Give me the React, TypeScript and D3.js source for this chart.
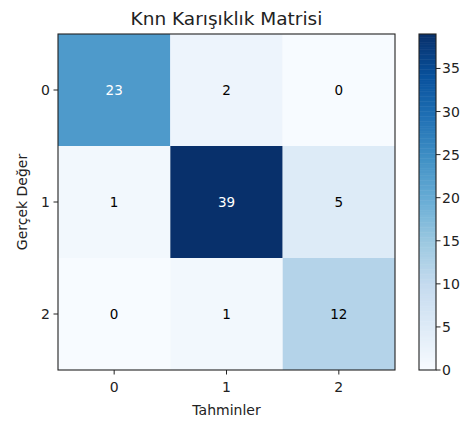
import React from "react";
import * as d3 from "d3";

const classes = ["0", "1", "2"];
const matrix: number[][] = [
  [23, 2, 0],
  [1, 39, 5],
  [0, 1, 12],
];
const colorbarTicks = [0, 5, 10, 15, 20, 25, 30, 35];
const blues = ["#f7fbff", "#deebf7", "#c6dbef", "#9ecae1", "#6baed6", "#4292c6", "#2171b5", "#08519c", "#08306b"];

const W = 466, H = 421;
const left = 58, top = 34, right = 395, bottom = 370;
const cbLeft = 419, cbRight = 436;
const FONT = "DejaVu Sans, sans-serif";

export default function App() {
  const maxV = d3.max(matrix.flat()) as number;
  const cmapT = d3.scaleLinear<string>()
    .domain(blues.map((_, i) => i / (blues.length - 1)))
    .range(blues)
    .interpolate(d3.interpolateRgb);
  const color = (v: number) => cmapT(v / maxV);
  const x = d3.scaleBand().domain(classes).range([left, right]);
  const y = d3.scaleBand().domain(classes).range([top, bottom]);
  const cy = d3.scaleLinear().domain([0, maxV]).range([bottom, top]);
  const steps = d3.range(0, 200);
  const thresh = maxV / 2;
  return (
    <svg width={W} height={H} style={{ position: "absolute", left: 0, top: 0 }} fontFamily={FONT}>
      <rect x={0} y={0} width={W} height={H} fill="#fff" />
      {matrix.map((row, i) =>
        row.map((v, j) => (
          <g key={`${i}-${j}`}>
            <rect x={x(classes[j])} y={y(classes[i])} width={x.bandwidth()} height={y.bandwidth()} fill={color(v)} />
            <text
              x={(x(classes[j]) as number) + x.bandwidth() / 2}
              y={(y(classes[i]) as number) + y.bandwidth() / 2}
              textAnchor="middle"
              dominantBaseline="central"
              fontSize={13.5}
              fill={v > thresh ? "#fff" : "#000"}
            >
              {v}
            </text>
          </g>
        ))
      )}
      <rect x={left} y={top} width={right - left} height={bottom - top} fill="none" stroke="#222" strokeWidth={1.1} />
      {classes.map((c) => {
        const px = (x(c) as number) + x.bandwidth() / 2;
        const py = (y(c) as number) + y.bandwidth() / 2;
        return (
          <g key={c}>
            <line x1={px} x2={px} y1={bottom} y2={bottom + 4.5} stroke="#222" />
            <text x={px} y={bottom + 22} textAnchor="middle" fontSize={14} fill="#222">{c}</text>
            <line x1={left - 4.5} x2={left} y1={py} y2={py} stroke="#222" />
            <text x={left - 8} y={py} textAnchor="end" dominantBaseline="central" fontSize={14} fill="#222">{c}</text>
          </g>
        );
      })}
      <text x={(left + right) / 2} y={top - 9} textAnchor="middle" fontSize={18.5} fill="#222">Knn Karışıklık Matrisi</text>
      <text x={(left + right) / 2} y={bottom + 45} textAnchor="middle" fontSize={14} fill="#222">Tahminler</text>
      <text transform={`translate(27,${(top + bottom) / 2}) rotate(-90)`} textAnchor="middle" fontSize={14} fill="#222">Gerçek Değer</text>
      {steps.map((s) => {
        const v0 = (s / steps.length) * maxV;
        const v1 = ((s + 1) / steps.length) * maxV;
        return <rect key={s} x={cbLeft} y={cy(v1)} width={cbRight - cbLeft} height={cy(v0) - cy(v1) + 0.5} fill={color((v0 + v1) / 2)} />;
      })}
      <rect x={cbLeft} y={top} width={cbRight - cbLeft} height={bottom - top} fill="none" stroke="#222" strokeWidth={1.1} />
      {colorbarTicks.map((t) => (
        <g key={t}>
          <line x1={cbRight} x2={cbRight + 4.5} y1={cy(t)} y2={cy(t)} stroke="#222" />
          <text x={cbRight + 6} y={cy(t)} dominantBaseline="central" fontSize={14} fill="#222">{t}</text>
        </g>
      ))}
    </svg>
  );
}
